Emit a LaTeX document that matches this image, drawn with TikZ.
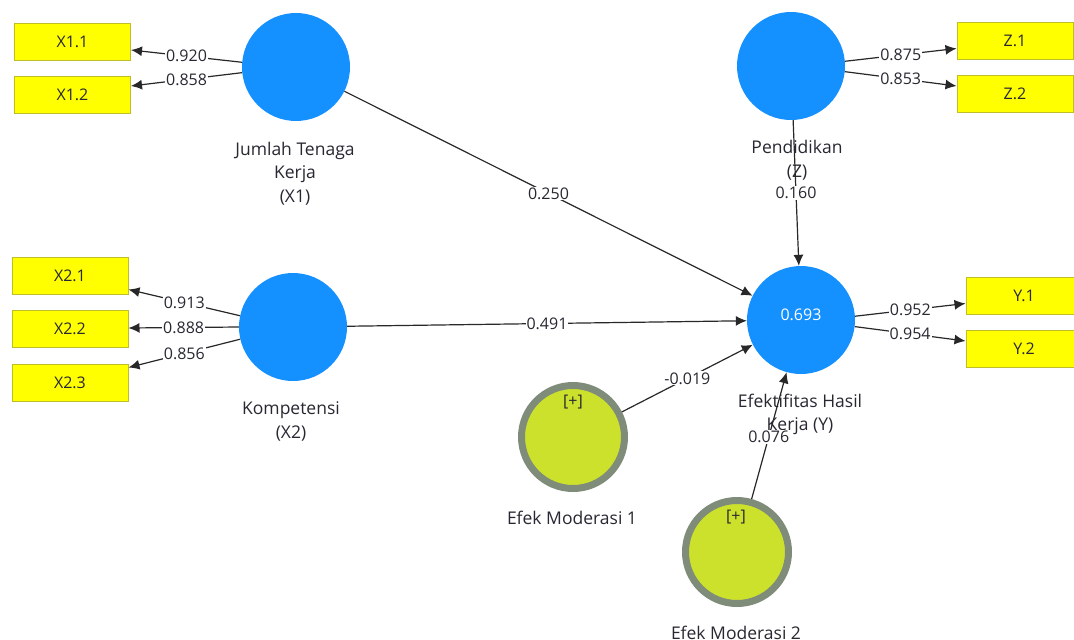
\documentclass[tikz,border=0pt]{standalone}
\usepackage{fontspec}
\setmainfont{Open Sans}
\usetikzlibrary{arrows.meta,calc}
\definecolor{latblue}{RGB}{20,145,255}
\definecolor{indyel}{RGB}{255,255,0}
\definecolor{indborder}{RGB}{190,190,40}
\definecolor{modfill}{RGB}{204,225,44}
\definecolor{modborder}{RGB}{128,140,122}
\definecolor{linec}{RGB}{40,40,40}
\definecolor{txt}{RGB}{40,40,50}
\begin{document}
\begin{tikzpicture}[x=1pt,y=-1pt,
  every node/.style={font=\fontsize{16}{23.5}\selectfont, text=txt},
  latent/.style={circle, fill=latblue, minimum size=108pt, inner sep=0pt},
  modnode/.style={circle, fill=modfill, draw=modborder, line width=7pt, minimum size=103pt, inner sep=0pt},
  indbox/.style={rectangle, fill=indyel, draw=indborder, line width=1pt, minimum width=116pt, minimum height=37pt, inner sep=0pt},
  conn/.style={draw=linec, line width=1.2pt, -{Latex[length=11pt,width=10pt]}},
  coef/.style={fill=white, inner sep=1pt, text=txt},
  latlabel/.style={align=center, inner sep=0pt, font=\fontsize{17.5}{23.5}\selectfont}
]
\useasboundingbox (0,0) rectangle (1074,640);
\clip (0,0) rectangle (1074,640);
\fill[white] (0,0) rectangle (1074,640);

% latent variables
\node[latent] (x1) at (296,67) {};
\node[latent] (x2) at (293,327) {};
\node[latent] (z) at (791,66) {};
\node[latent] (y) at (801,320) {};
\node[text=white] (ytxt) at (801,315) {0.693};
\node[modnode] (m1) at (573,437) {};
\node[modnode] (m2) at (737,552) {};
\node (m1p) at (573,402) {[+]};
\node (m2p) at (736,517) {[+]};

% indicators
\node[indbox] (x11) at (72.5,42) {X1.1};
\node[indbox] (x12) at (72.5,95) {X1.2};
\node[indbox] (x21) at (70,275.5) {X2.1};
\node[indbox] (x22) at (70,329) {X2.2};
\node[indbox] (x23) at (70,382.5) {X2.3};
\node[indbox] (z1) at (1015,40.5) {Z.1};
\node[indbox] (z2) at (1015,94) {Z.2};
\node[indbox] (y1) at (1024,295.5) {Y.1};
\node[indbox] (y2) at (1024,349) {Y.2};

% latent labels
\node[latlabel] (x1lab) at (295,173.5) {Jumlah Tenaga\\Kerja\\(X1)};
\node[latlabel] (x2lab) at (291,421.5) {Kompetensi\\(X2)};
\node[latlabel] (zlab) at (797,160) {Pendidikan\\(Z)};
\node[latlabel] (ylab) at (800,414.5) {Efektifitas Hasil\\Kerja (Y)};
\node[latlabel] (m1lab) at (572,518) {Efek Moderasi 1};
\node[latlabel] (m2lab) at (736,633) {Efek Moderasi 2};

% outer loadings
\draw[conn] (x1.175) -- ($(x11.east)+(0,8)$) node[coef,midway] (l1) {0.920};
\draw[conn] (x1.186) -- ($(x12.east)+(0,-9)$) node[coef,midway] (l2) {0.858};
\draw[conn] (x2.168) -- ($(x21.east)+(0,14)$) node[coef,midway] (l3) {0.913};
\draw[conn] (x2.180) -- ($(x22.east)+(0,-1)$) node[coef,midway] (l4) {0.888};
\draw[conn] (x2.193) -- ($(x23.east)+(0,-15)$) node[coef,midway] (l5) {0.856};
\draw[conn] (z.5) -- ($(z1.west)+(0,8)$) node[coef,midway] (l6) {0.875};
\draw[conn] (z.-6) -- ($(z2.west)+(0,-8)$) node[coef,midway] (l7) {0.853};
\draw[conn] (y.4) -- ($(y1.west)+(0,8)$) node[coef,midway] (l8) {0.952};
\draw[conn] (y.-7) -- ($(y2.west)+(0,-8)$) node[coef,midway] (l9) {0.954};

% structural paths
\draw[conn] (x1) -- (y) node[coef,midway] (p1) {0.250};
\draw[conn] (x2) -- (y) node[coef,midway] (p2) {0.491};
\draw[conn] (z) -- (y) node[coef,midway] (p3) {0.160};
\draw[conn] (m1) -- (y) node[coef,midway] (p4) {-0.019};
\draw[conn] (m2) -- (y) node[coef,pos=0.49] (p5) {0.076};
\end{tikzpicture}
\end{document}
